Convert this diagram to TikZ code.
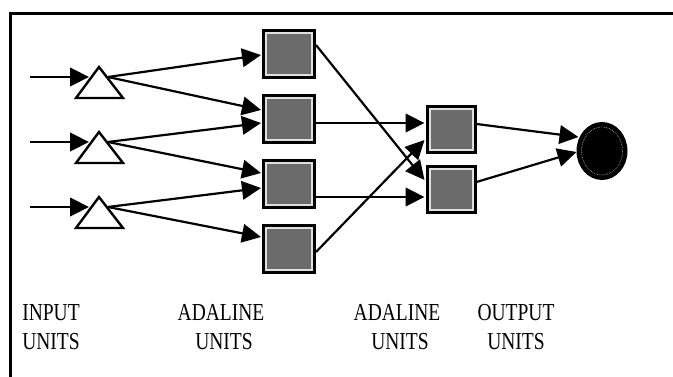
\documentclass[tikz,border=0pt]{standalone}
\usepackage{fontspec}
\setmainfont{Liberation Serif}
\usetikzlibrary{arrows.meta,calc,shapes.geometric}
\newcommand{\tall}[1]{\scalebox{1}[1.25]{#1}}
\begin{document}
\begin{tikzpicture}[x=1pt,y=-1pt,
  conn/.style={line width=2.2pt,-{Triangle[length=19pt,width=18.5pt]}},
  tri/.style={draw=black,line width=2.4pt,line join=miter,fill=white},
  adaline/.style={draw=black,line width=3pt,fill=black!12,
    minimum width=51pt,minimum height=47pt,inner sep=0pt,
    path picture={\fill[black!58]
      ([shift={(3.5pt,-3.5pt)}]path picture bounding box.north west) rectangle
      ([shift={(-3.5pt,3.5pt)}]path picture bounding box.south east);}},
  adalineb/.style={adaline,minimum width=48pt,minimum height=46pt},
  outunit/.style={ellipse,draw=black,line width=2pt,fill=black,
    minimum width=49pt,minimum height=56pt,inner sep=0pt},
  lbl/.style={font=\fontsize{19.5}{23}\selectfont,inner sep=0pt,anchor=base}]

\useasboundingbox (0,0) rectangle (673,377);

% frame (open to the right and bottom)
\draw[line width=3pt,line join=miter] (10,377) -- (10,14) -- (673,14);

% input units: triangles
\foreach \k/\y in {1/77,2/142,3/207}{
  \draw[tri] (76,\y+21) -- (99,\y-10) -- (123,\y+21) -- cycle;
  \coordinate (a\k) at (30,\y);
  \coordinate (i\k w) at (89,\y);
  \coordinate (i\k e) at (108,\y);
}

% first adaline layer
\node[adaline] (s1) at (289,54) {};
\node[adaline] (s2) at (289,119.5) {};
\node[adaline] (s3) at (289,184.5) {};
\node[adaline] (s4) at (289,249) {};

% second adaline layer
\node[adalineb] (t1) at (451,130) {};
\node[adalineb] (t2) at (451,189.5) {};

% output unit
\node[outunit] (o) at (602,151) {};
\draw[black!35,line width=0.7pt,densely dotted] (o.center) ellipse [x radius=20.5, y radius=24];

% inputs
\draw[conn] (a1) -- (i1w);
\draw[conn] (a2) -- (i2w);
\draw[conn] (a3) -- (i3w);

% input -> first layer
\draw[conn] (i1e) -- ($(s1.west)+(-1,1)$);
\draw[conn] (i1e) -- ($(s2.west)+(-1,-9.5)$);
\draw[conn] (i2e) -- ($(s2.west)+(-1,3.5)$);
\draw[conn] (i2e) -- ($(s3.west)+(-1,-11.5)$);
\draw[conn] (i3e) -- ($(s3.west)+(-1,3.5)$);
\draw[conn] (i3e) -- ($(s4.west)+(-1,-12)$);

% first layer -> second layer
\draw[conn] ($(s1.east)+(0,-9)$) -- ($(t2.west)+(-1,-9.5)$);
\draw[conn] ($(s2.east)+(0,3.5)$) -- ($(t1.west)+(-1,-7)$);
\draw[conn] ($(s3.east)+(0,12.5)$) -- ($(t2.west)+(-1,7.5)$);
\draw[conn] ($(s4.east)+(0,3)$) -- ($(t1.west)+(-1,10)$);

% second layer -> output
\draw[conn] ($(t1.east)+(0,-6)$) -- ($(o.west)+(2,-14)$);
\draw[conn] ($(t2.east)+(0,-7.5)$) -- ($(o.west)+(0,1)$);

% column labels
\node[lbl] (l1a) at (51,320) {\tall{INPUT}};
\node[lbl] (l1b) at (51,349) {\tall{UNITS}};
\node[lbl] (l2a) at (221,320) {\tall{ADALINE}};
\node[lbl] (l2b) at (224,349) {\tall{UNITS}};
\node[lbl] (l3a) at (397,320) {\tall{ADALINE}};
\node[lbl] (l3b) at (400,349) {\tall{UNITS}};
\node[lbl] (l4a) at (516,320) {\tall{OUTPUT}};
\node[lbl] (l4b) at (516,349) {\tall{UNITS}};
\end{tikzpicture}
\end{document}
